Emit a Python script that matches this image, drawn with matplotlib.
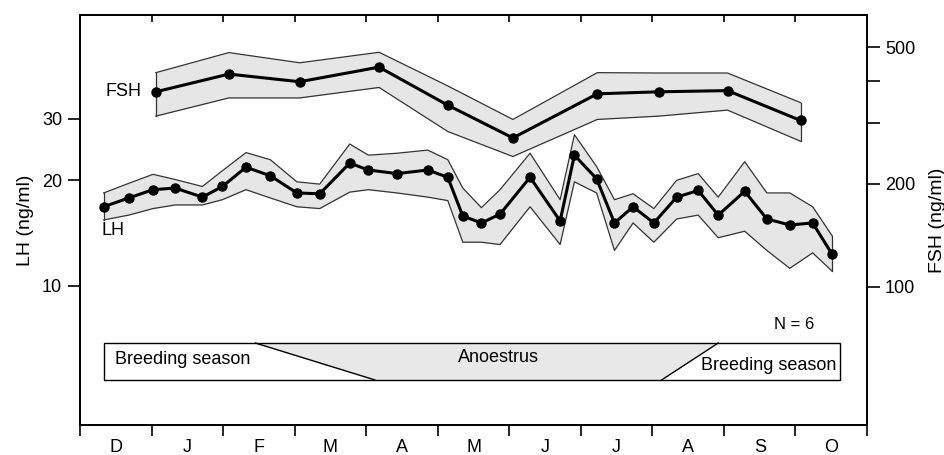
import matplotlib
matplotlib.use("Agg")
import matplotlib.pyplot as plt
import matplotlib.ticker as mticker
import matplotlib.transforms as mtransforms
from matplotlib.patches import Polygon, Rectangle

plt.rcParams['font.family'] = ['Liberation Sans', 'DejaVu Sans']

# ---- data ----
months = ["D", "J", "F", "M", "A", "M", "J", "J", "A", "S", "O"]

lh_x = [0.33, 0.68, 1.02, 1.33, 1.71, 1.99, 2.32, 2.66, 3.03, 3.35, 3.77, 4.03,
        4.43, 4.86, 5.14, 5.35, 5.61, 5.87, 6.29, 6.71, 6.91, 7.22, 7.47, 7.73,
        8.02, 8.34, 8.64, 8.92, 9.29, 9.60, 9.92, 10.24, 10.51]
lh_mean = [16.8, 17.8, 18.8, 19.0, 17.9, 19.2, 21.8, 20.6, 18.4, 18.3, 22.4, 21.4,
           20.9, 21.4, 20.4, 15.8, 15.1, 16.0, 20.4, 15.3, 23.6, 20.2, 15.1, 16.8,
           15.1, 17.9, 18.7, 15.9, 18.6, 15.5, 14.9, 15.1, 12.3]
lh_upper = [18.4, 19.6, 20.8, 20.1, 19.2, 21.3, 24.0, 22.9, 19.8, 19.5, 25.4, 23.6,
            23.9, 24.4, 22.9, 19.0, 16.7, 18.8, 23.9, 17.6, 27.0, 21.9, 17.6, 18.3,
            16.6, 20.0, 20.9, 17.9, 22.6, 18.4, 18.4, 16.8, 13.9]
lh_lower = [15.4, 15.9, 16.6, 17.0, 17.0, 17.6, 18.8, 17.8, 16.8, 16.6, 18.5, 18.8,
            18.4, 17.9, 17.5, 13.3, 13.3, 13.1, 16.8, 13.1, 19.8, 18.4, 12.6, 15.1,
            13.3, 15.5, 15.9, 13.7, 14.3, 12.6, 11.2, 12.4, 11.0]

fsh_x = [1.06, 2.08, 3.07, 4.18, 5.14, 6.05, 7.23, 8.09, 9.05, 10.07]
fsh_mean = [371, 418, 397, 438, 339, 272, 366, 371, 374, 306]
fsh_upper = [422, 483, 451, 484, 386, 308, 422, 421, 421, 345]
fsh_lower = [315, 356, 356, 382, 284, 240, 308, 315, 328, 266]

lh_ticks = [10, 20, 30]
fsh_ticks = [100, 200, 300, 400, 500]
fsh_ticklabels = ["100", "200", "", "", "500"]

season_labels = ["Breeding season", "Anoestrus", "Breeding season"]
season_box = [0.335, 10.62]
anoestrus_start = [2.45, 4.12]
anoestrus_end = [8.92, 8.13]

# ---- figure ----
fig = plt.figure(figsize=(9.45, 4.55), dpi=100)
ax = fig.add_axes([0.0847, 0.0659, 0.8328, 0.9011])
ax2 = ax.twinx()

ax.set_yscale('log')
ax2.set_yscale('log')
ax.set_ylim(3.99, 59.4)
ax2.set_ylim(39.4, 622)
ax.set_xlim(0, 11)

band_color = '#e6e6e6'
edge_color = '#333333'
# LH
ax.fill_between(lh_x, lh_lower, lh_upper, color=band_color, lw=0, zorder=1)
ax.plot(lh_x, lh_upper, color=edge_color, lw=0.9, zorder=2)
ax.plot(lh_x, lh_lower, color=edge_color, lw=0.9, zorder=2)
ax.plot([lh_x[0], lh_x[0]], [lh_lower[0], lh_upper[0]], color=edge_color, lw=0.9, zorder=2)
ax.plot([lh_x[-1], lh_x[-1]], [lh_lower[-1], lh_upper[-1]], color=edge_color, lw=0.9, zorder=2)
ax.plot(lh_x, lh_mean, color='black', lw=2.2, marker='o', ms=6.5, zorder=3)

# FSH
ax2.fill_between(fsh_x, fsh_lower, fsh_upper, color=band_color, lw=0, zorder=1)
ax2.plot(fsh_x, fsh_upper, color=edge_color, lw=0.9, zorder=2)
ax2.plot(fsh_x, fsh_lower, color=edge_color, lw=0.9, zorder=2)
ax2.plot([fsh_x[0], fsh_x[0]], [fsh_lower[0], fsh_upper[0]], color=edge_color, lw=0.9, zorder=2)
ax2.plot([fsh_x[-1], fsh_x[-1]], [fsh_lower[-1], fsh_upper[-1]], color=edge_color, lw=0.9, zorder=2)
ax2.plot(fsh_x, fsh_mean, color='black', lw=2.2, marker='o', ms=6.5, zorder=3)

fs = 13
# series labels
ax2.text(fsh_x[0] - 0.2, fsh_mean[0], "FSH", ha='right', va='center', fontsize=fs)
ax.text(lh_x[0] - 0.03, lh_lower[0] * 0.935, "LH", ha='left', va='center', fontsize=fs)

# ticks
ax.set_yticks(lh_ticks)
ax.set_yticklabels([str(t) for t in lh_ticks])
ax.yaxis.set_minor_locator(mticker.NullLocator())
ax2.set_yticks(fsh_ticks)
ax2.set_yticklabels(fsh_ticklabels)
ax2.yaxis.set_minor_locator(mticker.NullLocator())

month_edges = list(range(len(months) + 1))
ax.set_xticks(month_edges)
ax.set_xticklabels([])
ax.set_xticks([i + 0.5 for i in range(len(months))], minor=True)
ax.set_xticklabels(months, minor=True)
ax.tick_params(axis='x', which='minor', length=0, pad=10, labelsize=fs)
ax.tick_params(axis='x', which='major', direction='out', length=8, width=1.2)
ax.tick_params(axis='y', which='major', direction='out', length=9, width=1.2, labelsize=fs, pad=4)
ax2.tick_params(axis='y', which='major', direction='out', length=9, width=1.2, labelsize=fs, pad=4)

# top ticks pointing inward
top_trans = mtransforms.blended_transform_factory(ax.transData, ax.transAxes)
ax.vlines(month_edges[1:-1], 0.982, 1.0, transform=top_trans, colors='black',
          lw=1.2, clip_on=False, zorder=5)

for sp in ax.spines.values():
    sp.set_linewidth(1.3)
for sp in ax2.spines.values():
    sp.set_linewidth(1.3)

ax.set_ylabel("LH (ng/ml)", fontsize=14, labelpad=6)
ax2.set_ylabel("FSH (ng/ml)", fontsize=14, labelpad=10)

# season bar (x in data, y in axes fraction)
trans = mtransforms.blended_transform_factory(ax.transData, ax.transAxes)
y_top, y_bot = 0.20, 0.11
anoestrus = Polygon([[anoestrus_start[0], y_top], [anoestrus_end[0], y_top],
                     [anoestrus_end[1], y_bot], [anoestrus_start[1], y_bot]],
                    closed=True, transform=trans, facecolor='#e8e8e8', edgecolor='none', zorder=1)
ax.add_patch(anoestrus)
box = Rectangle((season_box[0], y_bot), season_box[1] - season_box[0], y_top - y_bot,
                transform=trans, facecolor='none', edgecolor='black', lw=1.0, zorder=2)
ax.add_patch(box)
ax.plot([anoestrus_start[0], anoestrus_start[1]], [y_top, y_bot], transform=trans, color='black', lw=1.0)
ax.plot([anoestrus_end[0], anoestrus_end[1]], [y_top, y_bot], transform=trans, color='black', lw=1.0)
ym = (y_top + y_bot) / 2
ax.text(season_box[0] + 0.15, ym + 0.005, season_labels[0], transform=trans, ha='left', va='center', fontsize=fs)
ax.text(5.85, ym + 0.01, season_labels[1], transform=trans, ha='center', va='center', fontsize=fs)
ax.text(season_box[1] - 0.05, ym - 0.01, season_labels[2], transform=trans, ha='right', va='center', fontsize=fs)
ax.text(10.26, 0.245, "N = 6", transform=trans, ha='right', va='center', fontsize=12)

fig.savefig("out.png", dpi=100)
